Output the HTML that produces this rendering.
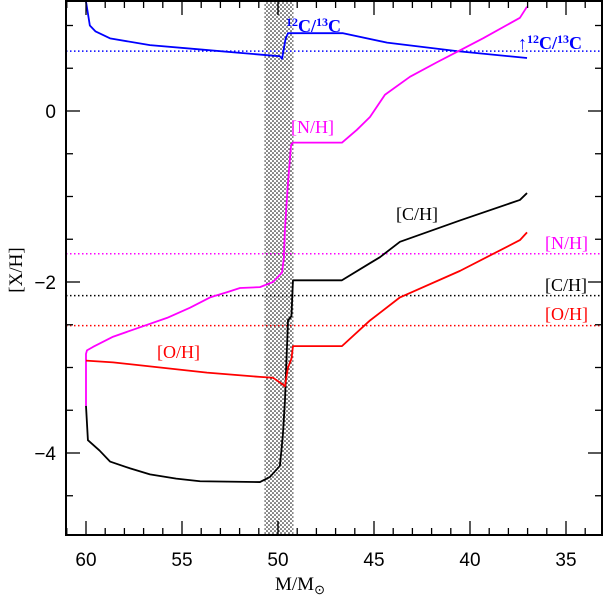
<!DOCTYPE html>
<html><head><meta charset="utf-8"><style>
body{margin:0;background:#fff}
svg{display:block;font-family:"Liberation Serif",serif}
</style></head><body>
<svg id="c" width="603" height="596" viewBox="0 0 603 596" xmlns="http://www.w3.org/2000/svg">
<defs><pattern id="dots" width="4" height="4" patternUnits="userSpaceOnUse"><rect width="4" height="4" fill="#fff"/><circle cx="1" cy="1" r="0.8" fill="#000"/><circle cx="3" cy="3" r="0.8" fill="#000"/></pattern></defs>
<g id="plot"></g>
</svg>
<script>
const blueCurve=[[60,1.28],[59.8,1.0],[59.5,0.93],[58.75,0.85],[56.67,0.77],[54.06,0.72],[51.98,0.68],[50.42,0.65],[49.9,0.64],[49.79,0.61],[49.6,0.85],[49.48,0.91],[46.61,0.91],[44.32,0.8],[40.68,0.7],[37.03,0.62]];
const nCurve=[[60,-3.45],[60,-2.84],[59.95,-2.8],[59.64,-2.76],[58.59,-2.64],[57.19,-2.53],[55.78,-2.42],[54.58,-2.3],[53.54,-2.18],[52.66,-2.12],[51.98,-2.07],[50.94,-2.06],[50.26,-2.0],[49.79,-1.89],[49.69,-1.71],[49.64,-1.39],[49.5,-0.9],[49.43,-0.7],[49.32,-0.4],[49.22,-0.37],[46.67,-0.37],[45.89,-0.22],[45.21,-0.07],[44.43,0.19],[43.13,0.4],[41.72,0.57],[40.52,0.71],[39.32,0.85],[37.4,1.09],[37.03,1.22]];
const cCurve=[[60,-3.45],[59.9,-3.85],[59.3,-3.97],[58.75,-4.1],[57.7,-4.18],[56.67,-4.25],[55.3,-4.3],[54.06,-4.33],[50.94,-4.34],[50.42,-4.28],[49.9,-4.15],[49.75,-3.8],[49.64,-3.4],[49.48,-2.45],[49.3,-2.4],[49.22,-1.98],[46.67,-1.98],[45.21,-1.78],[44.69,-1.71],[43.65,-1.53],[40.52,-1.28],[37.4,-1.04],[37.03,-0.96]];
const oCurve=[[60,-2.92],[58.59,-2.94],[53.7,-3.06],[50.94,-3.11],[50.26,-3.12],[49.74,-3.2],[49.64,-3.22],[49.48,-3.0],[49.3,-2.9],[49.22,-2.75],[46.67,-2.75],[45.21,-2.45],[44.69,-2.36],[43.65,-2.18],[40.52,-1.87],[37.4,-1.51],[37.03,-1.42]];
const refLevels=[0.7,-1.67,-2.16,-2.51];
const refColors=["#0000ff","#ff00ff","#000","#ff0000"];
const xTicks=[60,55,50,45,40,35];
const yTicks=[0,-2,-4];
const band=[50.7,49.2];
const L=66,R=602,T=1,B=535;
const X=m=>86+(60-m)*19.2, Y=v=>111-v*85.5;
const g=document.getElementById('plot');
const NS="http://www.w3.org/2000/svg";
function el(t,a,p){const e=document.createElementNS(NS,t);for(const k in a)e.setAttribute(k,a[k]);(p||g).appendChild(e);return e;}
const bd=el('rect',{x:X(band[0]),y:T,width:X(band[1])-X(band[0]),height:B-T,fill:'url(#dots)'});


refLevels.forEach((v,i)=>{const l=el('line',{x1:L,x2:R,y1:Y(v),y2:Y(v),stroke:refColors[i],'stroke-width':1.5,'stroke-dasharray':'1.5 2.5'});

});
[[blueCurve,'#0000ff','c12c13-curve'],[nCurve,'#ff00ff','nh-curve'],[cCurve,'#000','ch-curve'],[oCurve,'#ff0000','oh-curve']].forEach(s=>{
const p=el('polyline',{points:s[0].map(d=>X(d[0])+','+Y(d[1])).join(' '),fill:'none',stroke:s[1],'stroke-width':1.8,'stroke-linejoin':'round'});

});
const fr=el('rect',{x:L,y:T,width:R-L,height:B-T,fill:'none',stroke:'#000','stroke-width':2});


for(let m=33;m<=61;m++){const x=X(m);if(x<L||x>R)continue;const len=m%5==0?14:7;
el('line',{x1:x,x2:x,y1:B,y2:B-len,stroke:'#000','stroke-width':1.3});el('line',{x1:x,x2:x,y1:T,y2:T+len,stroke:'#000','stroke-width':1.3});}
for(let v=-5;v<=1.01;v+=0.5){const y=Y(v);if(y<T||y>B)continue;const len=Math.abs(v%2)<0.01?14:7;
el('line',{x1:L,x2:L+len,y1:y,y2:y,stroke:'#000','stroke-width':1.3});el('line',{x1:R,x2:R-len,y1:y,y2:y,stroke:'#000','stroke-width':1.3});}
xTicks.forEach(m=>{const t=el('text',{x:X(m),y:566,'font-size':19,'text-anchor':'middle','font-family':'Liberation Sans, sans-serif'});t.textContent=m;

});
yTicks.forEach(v=>{const t=el('text',{x:56,y:Y(v)+7,'font-size':19,'text-anchor':'end','font-family':'Liberation Sans, sans-serif'});t.textContent=(v<0?'\u2212':'')+Math.abs(v);

});
</script>
<svg style="position:absolute;left:0;top:0" width="603" height="596" font-family="Liberation Serif, serif">
<text x="300" y="590" font-size="19" text-anchor="middle">M/M<tspan font-size="13" dy="4">⊙</tspan></text>
<text transform="translate(22,270) rotate(-90)" font-size="19" text-anchor="middle">[X/H]</text>
<text x="286" y="32" font-size="18" fill="#0000ff" font-weight="bold"><tspan font-size="12" dy="-6">12</tspan><tspan dy="6">C/</tspan><tspan font-size="12" dy="-6">13</tspan><tspan dy="6">C</tspan></text>
<text x="291" y="133" font-size="18" fill="#ff00ff">[N/H]</text>
<text x="396" y="220" font-size="18" fill="#000">[C/H]</text>
<text x="157" y="358" font-size="18" fill="#ff0000">[O/H]</text>
<text x="518" y="49" font-size="18" fill="#0000ff" font-weight="bold">↑<tspan font-size="12" dy="-6">12</tspan><tspan dy="6">C/</tspan><tspan font-size="12" dy="-6">13</tspan><tspan dy="6">C</tspan></text>
<text x="545" y="249" font-size="18" fill="#ff00ff">[N/H]</text>
<text x="545" y="291" font-size="18" fill="#000">[C/H]</text>
<text x="545" y="320" font-size="18" fill="#ff0000">[O/H]</text>
</svg>
</body></html>
